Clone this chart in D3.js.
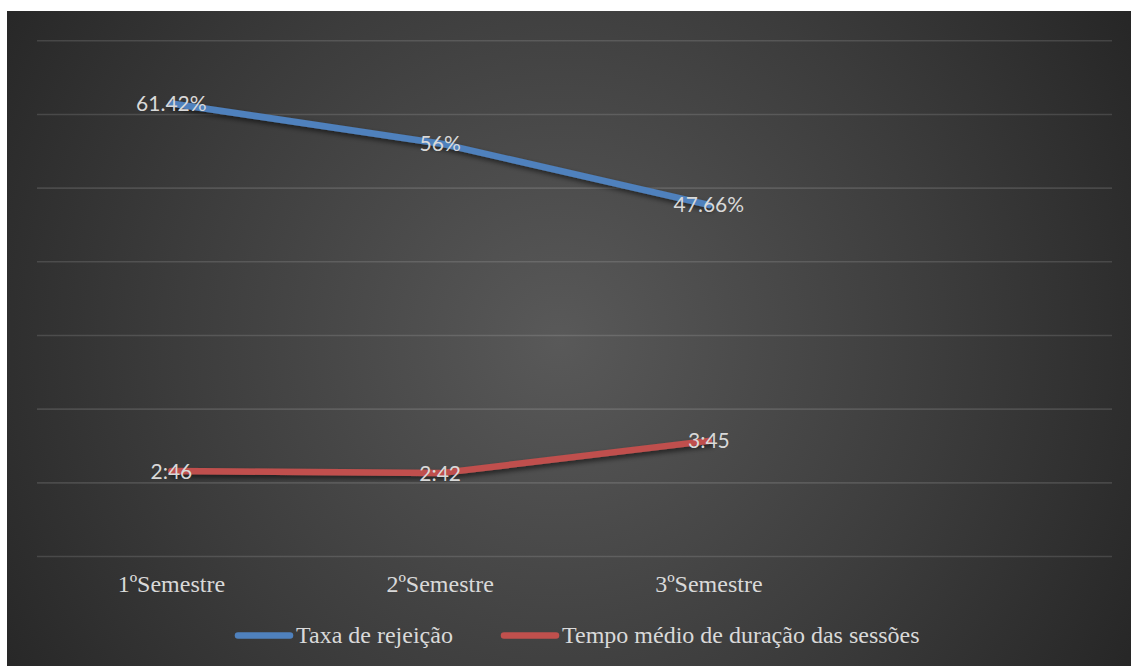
<!DOCTYPE html>
<html>
<head>
<meta charset="utf-8">
<script src="https://cdn.jsdelivr.net/npm/d3@7"></script>
<style>
  html, body { margin: 0; padding: 0; background: #ffffff; }
  svg { display: block; }
</style>
</head>
<body>
<svg id="chart" width="1131" height="666"></svg>
<script>
// Categories (the fourth slot is an empty category, as in the sheet)
const categories = ["1ºSemestre", "2ºSemestre", "3ºSemestre", ""];

// Bounce rate, as fractions
const taxaRejeicao = [0.6142, 0.56, 0.4766];
const taxaLabels = ["61.42%", "56%", "47.66%"];

// Average session duration, stored as h:mm time values (fractions of a day)
const tempoLabels = ["2:46", "2:42", "3:45"];
const tempoMedio = tempoLabels.map(t => {
  const [h, m] = t.split(":").map(Number);
  return (h * 60 + m) / 1440;
});

const yTicks = [0, 0.1, 0.2, 0.3, 0.4, 0.5, 0.6, 0.7];

const seriesNames = ["Taxa de rejeição", "Tempo médio de duração das sessões"];
const seriesColors = ["#4f81bd", "#c0504d"];

const W = 1131, H = 666;
const svg = d3.select("#chart");
const defs = svg.append("defs");

// Dark radial background
const grad = defs.append("radialGradient")
  .attr("id", "bg").attr("gradientUnits", "userSpaceOnUse")
  .attr("cx", 560).attr("cy", 340).attr("r", 700);
grad.append("stop").attr("offset", "0%").attr("stop-color", "#595959");
grad.append("stop").attr("offset", "55%").attr("stop-color", "#3c3c3c");
grad.append("stop").attr("offset", "100%").attr("stop-color", "#232323");

// Soft shadow beneath the lines
const f = defs.append("filter").attr("id", "shadow")
  .attr("x", "-10%").attr("y", "-50%").attr("width", "120%").attr("height", "200%");
f.append("feDropShadow").attr("dx", 2).attr("dy", 3).attr("stdDeviation", 2.5)
  .attr("flood-color", "#000").attr("flood-opacity", 0.55);

svg.append("rect").attr("x", 7).attr("y", 11).attr("width", W - 7).attr("height", H - 11)
  .attr("fill", "url(#bg)");

const plot = { left: 37, right: 1112, top: 40.3, bottom: 556 };

const x = d3.scaleBand().domain(categories.map((c, i) => i))
  .range([plot.left, plot.right]).paddingInner(0).paddingOuter(0);
const cx = i => x(i) + x.bandwidth() / 2;

const y = d3.scaleLinear().domain([0, 0.7]).range([plot.bottom, plot.top]);

// Horizontal gridlines
const yAxis = d3.axisLeft(y).tickValues(yTicks).tickSize(-(plot.right - plot.left)).tickFormat("");
const gy = svg.append("g").attr("transform", `translate(${plot.left},0)`).call(yAxis);
gy.select(".domain").remove();
gy.selectAll(".tick line").attr("stroke", "#ffffff").attr("stroke-opacity", 0.13).attr("stroke-width", 1.6);

// Category axis labels
const xAxis = d3.axisBottom(x).tickFormat(i => categories[i]).tickSize(0).tickPadding(0);
const gx = svg.append("g").attr("transform", `translate(0,${plot.bottom})`).call(xAxis);
gx.select(".domain").remove();
gx.selectAll(".tick text")
  .attr("y", 36).attr("dy", 0)
  .attr("fill", "#d9d9d9")
  .style("font-family", "'Liberation Serif', 'Times New Roman', serif")
  .style("font-size", "24px");

const line = d3.line().x((d, i) => cx(i)).y(d => y(d));

const series = [
  { values: taxaRejeicao, labels: taxaLabels, color: seriesColors[0] },
  { values: tempoMedio, labels: tempoLabels, color: seriesColors[1] }
];

series.forEach(s => {
  svg.append("path").datum(s.values)
    .attr("d", line)
    .attr("fill", "none")
    .attr("stroke", s.color)
    .attr("stroke-width", 6.5)
    .attr("stroke-linecap", "round")
    .attr("stroke-linejoin", "round")
    .attr("filter", "url(#shadow)");
});

series.forEach(s => {
  svg.append("g").selectAll("text").data(s.values).join("text")
    .attr("x", (d, i) => cx(i))
    .attr("y", d => y(d))
    .attr("dy", "0.36em")
    .attr("text-anchor", "middle")
    .attr("fill", "#d9d9d9")
    .style("font-family", "Lato, 'Open Sans', sans-serif")
    .style("font-size", "21px")
    .text((d, i) => s.labels[i]);
});

// Legend
const legendItems = [
  { name: seriesNames[0], color: seriesColors[0], x0: 235 },
  { name: seriesNames[1], color: seriesColors[1], x0: 501 }
];
const lg = svg.append("g");
legendItems.forEach(it => {
  lg.append("line")
    .attr("x1", it.x0 + 3).attr("x2", it.x0 + 55)
    .attr("y1", 635.5).attr("y2", 635.5)
    .attr("stroke", it.color).attr("stroke-width", 6.5).attr("stroke-linecap", "round");
  lg.append("text")
    .attr("x", it.x0 + 61).attr("y", 643)
    .attr("fill", "#d9d9d9")
    .style("font-family", "'Liberation Serif', 'Times New Roman', serif")
    .style("font-size", "24px")
    .text(it.name);
});
</script>
</body>
</html>
